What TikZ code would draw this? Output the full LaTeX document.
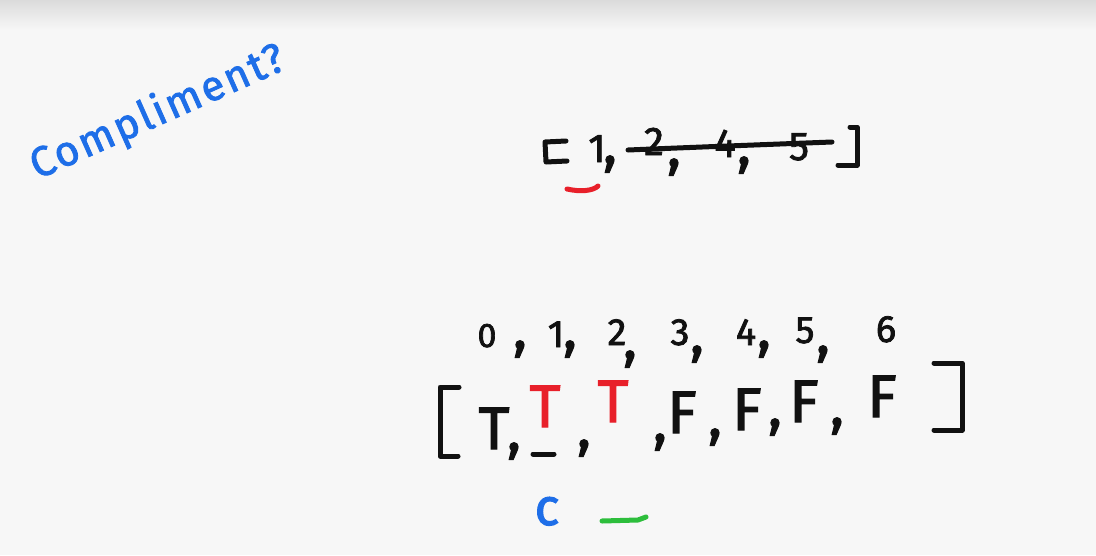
\documentclass[tikz,border=0pt]{standalone}
\usepackage{fontspec}
\setmainfont[FakeBold=2]{Fira Sans}
\newfontfamily\titlefont[FakeBold=2,LetterSpace=6]{Fira Sans}
\definecolor{inkblue}{RGB}{30,110,232}
\definecolor{inkred}{RGB}{232,32,42}
\definecolor{inkgreen}{RGB}{45,190,60}
\definecolor{inkblack}{RGB}{17,17,17}
\definecolor{paper}{RGB}{247,247,247}
\begin{document}
\begin{tikzpicture}[x=1pt,y=-1pt,
  ink/.style={line width=5pt, line cap=round, line join=round, draw=inkblack},
  glyph/.style={inner sep=0pt, anchor=base, text=inkblack},
  topdig/.style={glyph, font=\fontsize{40}{40}\selectfont},
  idx/.style={glyph, font=\fontsize{38}{38}\selectfont},
  tf/.style={glyph, font=\fontsize{60}{60}\selectfont},
  comma/.style={glyph, font=\fontsize{58}{58}\selectfont}]
\fill[paper] (0,0) rectangle (1096,555);
\shade[top color=black!14, bottom color=paper] (0,0) rectangle (1096,30);
\useasboundingbox (0,0) rectangle (1096,555);

% title
\node[inner sep=0pt, text=inkblue, rotate=24, font=\titlefont\fontsize{42}{42}\selectfont] (title) at (158,113) {Compliment?};

% top array
\draw[ink] (566,141) -- (545,142) -- (546,162) -- (567,161);
\node[topdig] (t1) at (597,162) {1};
\node[comma] (tc1) at (610,163) {,};
\node[topdig] (t2) at (654,155) {2};
\node[comma] (tc2) at (674,166) {,};
\node[topdig] (t4) at (725,157) {4};
\node[comma] (tc4) at (744,164) {,};
\node[topdig] (t5) at (799,160) {5};
\draw[ink] (850,127) -- (857,127) -- (857,165) -- (838,165);
\coordinate (sa) at (628,150);
\coordinate (sb) at (832,142);
\draw[ink] (sa) .. controls (700,147) and (780,144) .. (sb);
\coordinate (ua) at (567,189);
\coordinate (ub) at (598,186);
\draw[ink, draw=inkred] (ua) .. controls (580,192) and (593,191) .. (ub);

% index row
\node[idx, font=\fontsize{34}{34}\selectfont] (i0) at (487,347) {0};
\node[comma] (ic0) at (520,348) {,};
\node[idx] (i1) at (556,347) {1};
\node[comma] (ic1) at (570,348) {,};
\node[idx] (i2) at (617,345) {2};
\node[comma] (ic2) at (630,358) {,};
\node[idx] (i3) at (680,345) {3};
\node[comma] (ic3) at (697,353) {,};
\node[idx] (i4) at (746,345) {4};
\node[comma] (ic4) at (764,348) {,};
\node[idx] (i5) at (805,343) {5};
\node[comma] (ic5) at (823,353) {,};
\node[idx] (i6) at (886,342) {6};

% boolean row
\draw[ink] (459,387) -- (440,387) -- (440,456) -- (458,456);
\node[tf] (b0) at (494,449) {T};
\node[comma] (bc0) at (514,450) {,};
\node[tf, text=inkred] (b1) at (545,427) {T};
\coordinate (la) at (533,454);
\coordinate (lb) at (554,454);
\draw[ink] (la) -- (lb);
\node[comma] (bc1) at (584,447) {,};
\node[tf, text=inkred] (b2) at (613,422) {T};
\node[comma] (bc2) at (660,441) {,};
\node[tf] (b3) at (682,433) {F};
\node[comma] (bc3) at (715,436) {,};
\node[tf] (b4) at (747,430) {F};
\node[comma] (bc4) at (775,426) {,};
\node[tf] (b5) at (804,422) {F};
\node[comma] (bc5) at (837,425) {,};
\node[tf] (b6) at (882,417) {F};
\draw[ink] (934,363) -- (962,363) -- (962,430) -- (934,430);

% bottom
\node[glyph, text=inkblue, font=\fontsize{52}{52}\selectfont] (c) at (547,525) {c};
\coordinate (ga) at (602,521);
\coordinate (gb) at (646,517);
\draw[ink, draw=inkgreen] (ga) -- (638,520) -- (gb);
\end{tikzpicture}
\end{document}
